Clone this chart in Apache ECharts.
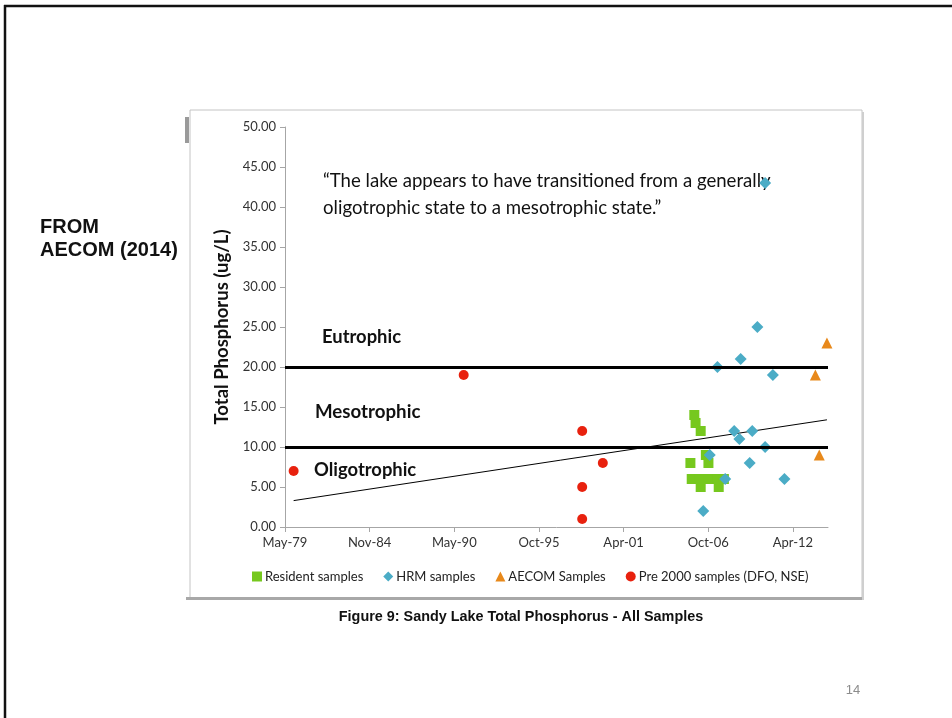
<!DOCTYPE html>
<html lang="en">
<head>
<meta charset="UTF-8">
<title>Sandy Lake Total Phosphorus</title>
<style>
  html, body { margin: 0; padding: 0; background: #fff; }
  #main { width: 952px; height: 718px; }
</style>
</head>
<body>
<div id="main"></div>
<script src="https://cdn.jsdelivr.net/npm/echarts@6/dist/echarts.min.js"></script>
<script>
// sample dates (YYYY-MM) and total phosphorus (ug/L)
const residentDates = ['2005-11', '2005-12', '2006-04', '2006-08', '2005-08', '2006-10', '2005-09', '2006-03', '2006-10', '2007-05', '2007-10', '2006-04', '2007-06'];
const residentTP = [14, 13, 12, 9, 8, 8, 6, 6, 6, 6, 6, 5, 5];

const hrmDates = ['2006-06', '2006-11', '2007-05', '2007-11', '2008-06', '2008-10', '2008-11', '2009-06', '2009-08', '2009-12', '2010-06', '2010-06', '2010-12', '2011-09'];
const hrmTP = [2, 9, 20, 6, 12, 11, 21, 8, 12, 25, 43, 10, 19, 6];

const aecomDates = ['2013-09', '2013-12', '2014-06'];
const aecomTP = [19, 9, 23];

const pre2000Dates = ['1979-12', '1990-12', '1998-08', '1998-08', '1998-08', '1999-12'];
const pre2000TP = [7, 19, 12, 5, 1, 8];

// linear trend line end points
const trendDates = ['1979-12', '2014-06'];
const trendTP = [3.3, 13.4];

// trophic state boundaries
const boundaries = [10, 20];

const seriesNames = ['Resident samples', 'HRM samples', 'AECOM Samples', 'Pre 2000 samples (DFO, NSE)'];

// x axis is days from the first tick (Excel date axis, major unit 2000 days)
const axisStart = Date.UTC(1979, 4, 25);
const DAY = 86400000;
const xTicks = [0, 2000, 4000, 6000, 8000, 10000, 12000];
const months = ['Jan', 'Feb', 'Mar', 'Apr', 'May', 'Jun', 'Jul', 'Aug', 'Sep', 'Oct', 'Nov', 'Dec'];

function toDays(s) {
    const p = s.split('-');
    return (Date.UTC(+p[0], +p[1] - 1, 15) - axisStart) / DAY;
}
function pairs(dates, vals) {
    return dates.map((d, i) => [toDays(d), vals[i]]);
}
function dayLabel(v) {
    const d = new Date(axisStart + v * DAY);
    return months[d.getUTCMonth()] + '-' + String(d.getUTCFullYear()).slice(2);
}

const font = 'Lato, "Open Sans", sans-serif';
const chart = echarts.init(document.getElementById('main'));

const option = {
    backgroundColor: '#fff',
    textStyle: { fontFamily: font },
    animation: false,
    grid: { left: 285, right: 124, top: 127, bottom: 191 },
    xAxis: {
        type: 'value',
        min: 0,
        max: 12830,
        axisLine: { lineStyle: { color: '#a6a6a6' } },
        axisTick: { customValues: xTicks, length: 5, lineStyle: { color: '#a6a6a6' } },
        axisLabel: { customValues: xTicks, formatter: dayLabel, color: '#333', fontSize: 13, margin: 9, fontFamily: font },
        splitLine: { show: false }
    },
    yAxis: {
        type: 'value',
        min: 0,
        max: 50,
        interval: 5,
        name: 'Total Phosphorus (ug/L)',
        nameLocation: 'middle',
        nameGap: 49,
        nameTextStyle: { fontSize: 18.5, fontWeight: 'bold', color: '#111', fontFamily: font },
        axisLine: { show: true, lineStyle: { color: '#a6a6a6' } },
        axisTick: { show: true, length: 5, lineStyle: { color: '#a6a6a6' } },
        axisLabel: { formatter: v => v.toFixed(2), color: '#333', fontSize: 13, margin: 9, fontFamily: font },
        splitLine: { show: false }
    },
    legend: {
        left: 247,
        top: 565,
        itemWidth: 10,
        itemHeight: 10,
        itemGap: 20,
        textStyle: { fontSize: 13, color: '#222', fontFamily: font, padding: [0, 0, 0, -2] },
        data: [
            { name: seriesNames[0], icon: 'rect' },
            { name: seriesNames[1], icon: 'diamond' },
            { name: seriesNames[2], icon: 'triangle' },
            { name: seriesNames[3], icon: 'circle' }
        ]
    },
    series: [
        {
            name: 'trend',
            type: 'line',
            data: pairs(trendDates, trendTP),
            symbol: 'none',
            lineStyle: { color: '#000', width: 1 },
            z: 1,
            markLine: {
                silent: true,
                symbol: 'none',
                label: { show: false },
                lineStyle: { color: '#000', width: 3, type: 'solid' },
                data: boundaries.map(b => ({ yAxis: b }))
            }
        },
        {
            name: seriesNames[0],
            type: 'scatter',
            symbol: 'rect',
            symbolSize: 10,
            itemStyle: { color: '#76c81e', opacity: 1 },
            data: pairs(residentDates, residentTP),
            z: 3
        },
        {
            name: seriesNames[1],
            type: 'scatter',
            symbol: 'diamond',
            symbolSize: 12,
            itemStyle: { color: '#4bacc6', opacity: 1 },
            data: pairs(hrmDates, hrmTP),
            z: 4
        },
        {
            name: seriesNames[2],
            type: 'scatter',
            symbol: 'triangle',
            symbolSize: 11,
            itemStyle: { color: '#e8891b', opacity: 1 },
            data: pairs(aecomDates, aecomTP),
            z: 4
        },
        {
            name: seriesNames[3],
            type: 'scatter',
            symbol: 'circle',
            symbolSize: 10,
            itemStyle: { color: '#e8210e', opacity: 1 },
            data: pairs(pre2000Dates, pre2000TP),
            z: 4
        }
    ],
    graphic: [
        // slide border
        { type: 'line', shape: { x1: 4, y1: 6, x2: 952, y2: 6 }, style: { stroke: '#111', lineWidth: 2.5 } },
        { type: 'line', shape: { x1: 5, y1: 5, x2: 5, y2: 718 }, style: { stroke: '#111', lineWidth: 2.5 } },
        // picture frame with shadow
        { type: 'rect', shape: { x: 190, y: 110, width: 672, height: 488 }, style: { fill: null, stroke: '#c4c4c4', lineWidth: 1 }, z: -1 },
        { type: 'rect', shape: { x: 186, y: 597, width: 678, height: 3 }, style: { fill: '#a8a8a8' } },
        { type: 'rect', shape: { x: 862, y: 112, width: 2, height: 488 }, style: { fill: '#cfcfcf' } },
        { type: 'rect', shape: { x: 185, y: 117, width: 4, height: 26 }, style: { fill: '#9a9a9a' } },
        // source note
        { type: 'text', left: 40, top: 217, style: { text: 'FROM', font: 'bold 20px "Liberation Sans", Arial, sans-serif', fill: '#111' } },
        { type: 'text', left: 40, top: 240, style: { text: 'AECOM (2014)', font: 'bold 20px "Liberation Sans", Arial, sans-serif', fill: '#111' } },
        // quote
        { type: 'text', x: 323, y: 181, style: { text: '\u201cThe lake appears to have transitioned from a generally', font: '18.6px ' + font, fill: '#111', verticalAlign: 'middle' } },
        { type: 'text', x: 323, y: 208, style: { text: 'oligotrophic state to a mesotrophic state.\u201d', font: '18.6px ' + font, fill: '#111', verticalAlign: 'middle' } },
        // trophic zone labels
        { type: 'text', x: 322, y: 337, style: { text: 'Eutrophic', font: 'bold 18.4px ' + font, fill: '#111', verticalAlign: 'middle' }, z: 5 },
        { type: 'text', x: 315, y: 412, style: { text: 'Mesotrophic', font: 'bold 18.7px ' + font, fill: '#111', verticalAlign: 'middle' }, z: 5 },
        { type: 'text', x: 314, y: 470, style: { text: 'Oligotrophic', font: 'bold 18.4px ' + font, fill: '#111', verticalAlign: 'middle' }, z: 5 },
        // caption and page number
        { type: 'text', x: 521, y: 617, style: { text: 'Figure 9: Sandy Lake Total Phosphorus - All Samples', font: 'bold 14.4px "Liberation Sans", Arial, sans-serif', fill: '#111', align: 'center', verticalAlign: 'middle' } },
        { type: 'text', x: 853, y: 690, style: { text: '14', font: '13px "Liberation Sans", Arial, sans-serif', fill: '#8c8c8c', align: 'center', verticalAlign: 'middle' } }
    ]
};

chart.setOption(option);
</script>
</body>
</html>
